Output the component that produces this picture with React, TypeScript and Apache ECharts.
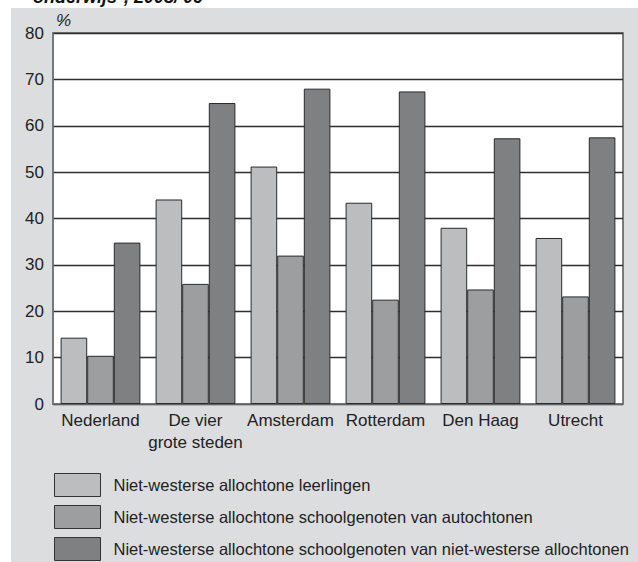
import React, { useEffect, useRef } from "react";
import * as echarts from "echarts";

const categories = ["Nederland", "De vier\ngrote steden", "Amsterdam", "Rotterdam", "Den Haag", "Utrecht"];
const seriesNames = [
  "Niet-westerse allochtone leerlingen",
  "Niet-westerse allochtone schoolgenoten van autochtonen",
  "Niet-westerse allochtone schoolgenoten van niet-westerse allochtonen",
];
const leerlingen = [14.3, 44.1, 51.2, 43.4, 38.0, 35.8];
const genotenAutochtonen = [10.4, 25.9, 32.0, 22.5, 24.7, 23.2];
const genotenAllochtonen = [34.8, 64.9, 68.0, 67.4, 57.3, 57.5];
const seriesColors = ["#bcbdbf", "#9d9ea0", "#7f8082"];
const yTicks = { min: 0, max: 80, interval: 10 };
const titleFragment = "onderwijs*, 2008/'09";

const FONT = "'Liberation Sans', Arial, Helvetica, sans-serif";

export default function App() {
  const ref = useRef<HTMLDivElement>(null);
  useEffect(() => {
    document.body.style.margin = "0";
    const chart = echarts.init(ref.current!, null, { renderer: "svg" });
    const data = [leerlingen, genotenAutochtonen, genotenAllochtonen];
    chart.setOption({
      animation: false,
      textStyle: { fontFamily: FONT },
      graphic: [
        {
          type: "rect",
          left: 11,
          top: 8,
          z: -10,
          shape: { width: 627, height: 554 },
          style: { fill: "#dcdddf" },
        },
        {
          type: "text",
          left: 33,
          top: -12,
          z: 10,
          style: {
            text: titleFragment,
            font: `italic bold 18px ${FONT}`,
            fill: "#111",
          },
        },
        {
          type: "text",
          left: 56,
          top: 12,
          style: { text: "%", font: `italic 17px ${FONT}`, fill: "#222" },
        },
      ],
      grid: {
        left: 53,
        right: 15,
        top: 33,
        bottom: 158,
        show: true,
        backgroundColor: "#ffffff",
        borderColor: "#555",
        borderWidth: 1.5,
      },
      legend: {
        orient: "vertical",
        left: 54,
        top: 473,
        itemWidth: 46,
        itemHeight: 23,
        itemGap: 8,
        icon: "rect",
        padding: 0,
        itemStyle: { borderColor: "#333", borderWidth: 1 },
        textStyle: { fontSize: 16.5, color: "#222", fontFamily: FONT, padding: [0, 0, 0, 8] },
        data: seriesNames,
      },
      xAxis: {
        type: "category",
        data: categories,
        axisTick: { show: false },
        axisLine: { lineStyle: { color: "#777", width: 1.5 } },
        axisLabel: { interval: 0, fontSize: 17, color: "#222", margin: 5, lineHeight: 22, fontFamily: FONT },
      },
      yAxis: {
        type: "value",
        min: yTicks.min,
        max: yTicks.max,
        interval: yTicks.interval,
        axisLine: { show: true, lineStyle: { color: "#777", width: 1.5 } },
        axisTick: { show: false },
        splitLine: { lineStyle: { color: "#2f2f2f", width: 1.3 } },
        axisLabel: { fontSize: 17, color: "#222", margin: 9, fontFamily: FONT },
      },
      series: seriesNames.map((name, i) => ({
        name,
        type: "bar",
        data: data[i],
        barGap: "0%",
        barCategoryGap: "16%",
        itemStyle: { color: seriesColors[i], borderColor: "#2a2a2a", borderWidth: 1 },
      })),
    });
    return () => chart.dispose();
  }, []);
  return <div ref={ref} style={{ width: 638, height: 562 }} />;
}
